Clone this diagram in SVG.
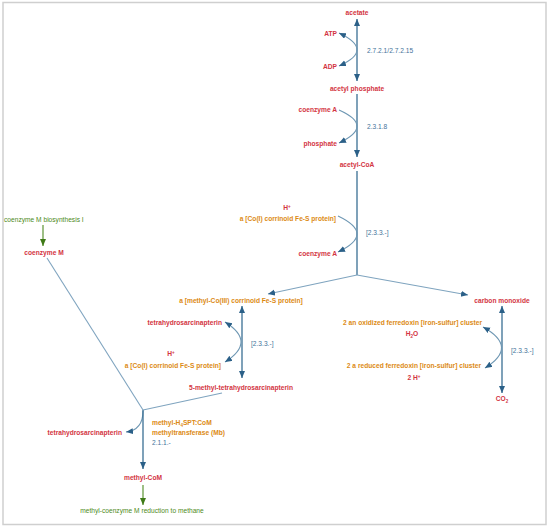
<svg xmlns="http://www.w3.org/2000/svg" width="550" height="528" viewBox="0 0 550 528">
<style>
text{font-family:"Liberation Sans",Arial,sans-serif;font-size:8px}
.m{fill:#d3343f;font-weight:bold}
.p{fill:#dc8a14;font-weight:bold}
.ec{fill:#44739a}
.g{fill:#4d8a22}
.s{font-size:5.5px}
.ln{fill:none;stroke:#3a6f94;stroke-width:1.3}
.lj{fill:none;stroke:#7fa4bf;stroke-width:1.1}
.cv{fill:none;stroke:#6e97b3;stroke-width:1.1}
.gl{fill:none;stroke:#4d8a22;stroke-width:1.1}
</style>
<defs>
<marker id="a" markerUnits="userSpaceOnUse" markerWidth="8" markerHeight="7" refX="7" refY="3" orient="auto-start-reverse"><path d="M0,0 L7,3 L0,6 Z" fill="#2b6088"/></marker>
<marker id="ag" markerUnits="userSpaceOnUse" markerWidth="8" markerHeight="7" refX="7" refY="3" orient="auto"><path d="M0,0 L7,3 L0,6 Z" fill="#3f7a17"/></marker>
</defs>
<rect x="3" y="2.5" width="543" height="522" fill="#fff" stroke="#cfcfcf" stroke-width="1.5"/>
<g id="connectors">
<path class="ln" d="M357,19 L357,81" marker-start="url(#a)" marker-end="url(#a)"/>
<path class="ln" d="M357,94 L357,157" marker-end="url(#a)"/>
<path class="ln" d="M357,171 L357,275"/>
<path class="lj" d="M357,275 L268,294" marker-end="url(#a)"/>
<path class="lj" d="M357,275 L468,295" marker-end="url(#a)"/>
<path class="cv" d="M339,33 Q375,50 339,66" marker-start="url(#a)" marker-end="url(#a)"/>
<path class="cv" d="M339,110 Q375,126 339,143" marker-end="url(#a)"/>
<path class="cv" d="M338,216 Q376,234 338,252" marker-end="url(#a)"/>
<path class="ln" d="M242,306 L242,378" marker-start="url(#a)" marker-end="url(#a)"/>
<path class="cv" d="M225,322 Q257,342 225,362" marker-start="url(#a)" marker-end="url(#a)"/>
<path class="ln" d="M502,306 L502,393" marker-start="url(#a)" marker-end="url(#a)"/>
<path class="cv" d="M483,327 Q519,347 485,368" marker-start="url(#a)" marker-end="url(#a)"/>
<path class="lj" d="M222,393 L143,410"/>
<path class="lj" d="M47,258 L143,410"/>
<path class="cv" d="M143,411 Q143,430 126,432" marker-end="url(#a)"/>
<path class="ln" d="M143,410 L143,469" marker-end="url(#a)"/>
<path class="gl" d="M43,225 L43,246" marker-end="url(#ag)"/>
<path class="gl" d="M143,485 L143,505" marker-end="url(#ag)"/>
</g>
<g id="acetate"><text class="m" transform="translate(357,15) scale(0.83,1)" text-anchor="middle">acetate</text></g>
<g id="atp"><text class="m" transform="translate(337,36) scale(0.83,1)" text-anchor="end">ATP</text></g>
<g id="adp"><text class="m" transform="translate(337,69) scale(0.83,1)" text-anchor="end">ADP</text></g>
<g id="ec1"><text class="ec" transform="translate(367,53) scale(0.83,1)">2.7.2.1/2.7.2.15</text></g>
<g id="acetyl-phosphate"><text class="m" transform="translate(357,91) scale(0.83,1)" text-anchor="middle">acetyl phosphate</text></g>
<g id="coa1"><text class="m" transform="translate(337,112) scale(0.83,1)" text-anchor="end">coenzyme A</text></g>
<g id="ec2"><text class="ec" transform="translate(367,129) scale(0.83,1)">2.3.1.8</text></g>
<g id="phosphate"><text class="m" transform="translate(337,146) scale(0.83,1)" text-anchor="end">phosphate</text></g>
<g id="acetyl-coa"><text class="m" transform="translate(357,167) scale(0.83,1)" text-anchor="middle">acetyl-CoA</text></g>
<g id="hplus1"><text class="m" transform="translate(287,210) scale(0.83,1)" text-anchor="middle">H<tspan class="s" dy="-2.5">+</tspan></text></g>
<g id="coi1"><text class="p" transform="translate(336,221) scale(0.83,1)" text-anchor="end">a [Co(I) corrinoid Fe-S protein]</text></g>
<g id="ec3"><text class="ec" transform="translate(366,235) scale(0.83,1)">[2.3.3.-]</text></g>
<g id="coa2"><text class="m" transform="translate(337,256) scale(0.83,1)" text-anchor="end">coenzyme A</text></g>
<g id="methyl-co"><text class="p" transform="translate(241,303) scale(0.83,1)" text-anchor="middle">a [methyl-Co(III) corrinoid Fe-S protein]</text></g>
<g id="co"><text class="m" transform="translate(502,303) scale(0.83,1)" text-anchor="middle">carbon monoxide</text></g>
<g id="thsp1"><text class="m" transform="translate(222,325) scale(0.83,1)" text-anchor="end">tetrahydrosarcinapterin</text></g>
<g id="ec4"><text class="ec" transform="translate(251,346) scale(0.83,1)">[2.3.3.-]</text></g>
<g id="hplus2"><text class="m" transform="translate(171,356) scale(0.83,1)" text-anchor="middle">H<tspan class="s" dy="-2.5">+</tspan></text></g>
<g id="coi2"><text class="p" transform="translate(221,368) scale(0.83,1)" text-anchor="end">a [Co(I) corrinoid Fe-S protein]</text></g>
<g id="methyl-thsp"><text class="m" transform="translate(241,390) scale(0.83,1)" text-anchor="middle">5-methyl-tetrahydrosarcinapterin</text></g>
<g id="oxfd"><text class="p" transform="translate(482,325) scale(0.83,1)" text-anchor="end">2 an oxidized ferredoxin [iron-sulfur] cluster</text></g>
<g id="h2o"><text class="m" transform="translate(412,336) scale(0.83,1)" text-anchor="middle">H<tspan class="s" dy="2">2</tspan><tspan dy="-2">O</tspan></text></g>
<g id="ec5"><text class="ec" transform="translate(511,353) scale(0.83,1)">[2.3.3.-]</text></g>
<g id="redfd"><text class="p" transform="translate(481,368) scale(0.83,1)" text-anchor="end">2 a reduced ferredoxin [iron-sulfur] cluster</text></g>
<g id="hplus3"><text class="m" transform="translate(414,380) scale(0.83,1)" text-anchor="middle">2 H<tspan class="s" dy="-2.5">+</tspan></text></g>
<g id="co2"><text class="m" transform="translate(502,401) scale(0.83,1)" text-anchor="middle">CO<tspan class="s" dy="2">2</tspan></text></g>
<g id="com-bio"><text class="g" transform="translate(4,222) scale(0.83,1)">coenzyme M biosynthesis I</text></g>
<g id="com"><text class="m" transform="translate(44,255) scale(0.83,1)" text-anchor="middle">coenzyme M</text></g>
<g id="thsp2"><text class="m" transform="translate(122,435) scale(0.83,1)" text-anchor="end">tetrahydrosarcinapterin</text></g>
<g id="enz"><text class="p" transform="translate(152,425) scale(0.83,1)">methyl-H<tspan class="s" dy="2">4</tspan><tspan dy="-2">SPT:CoM</tspan></text><text class="p" transform="translate(152,435) scale(0.83,1)">methyltransferase (Mb)</text><text class="ec" transform="translate(152,445) scale(0.83,1)">2.1.1.-</text></g>
<g id="methyl-com"><text class="m" transform="translate(143,480) scale(0.83,1)" text-anchor="middle">methyl-CoM</text></g>
<g id="methane"><text class="g" transform="translate(142,513) scale(0.83,1)" text-anchor="middle">methyl-coenzyme M reduction to methane</text></g>
</svg>
